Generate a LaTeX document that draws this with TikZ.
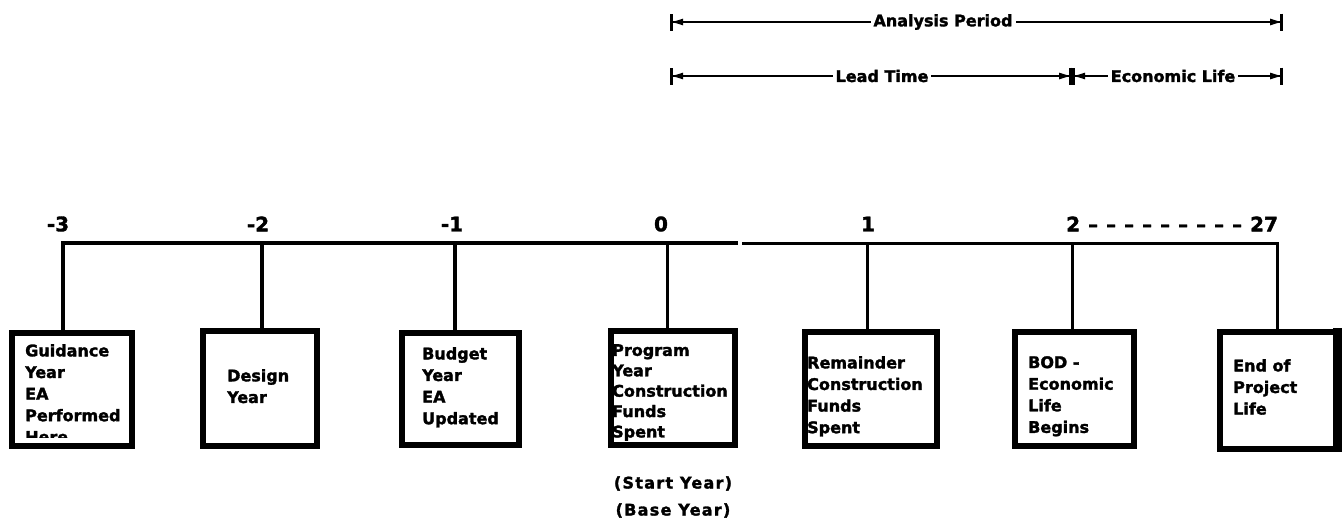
\documentclass[tikz,border=0pt]{standalone}
\usepackage{fontspec}
\setmainfont{DejaVu Sans}[FakeBold=1.8]
\usetikzlibrary{arrows.meta}
\begin{document}
\begin{tikzpicture}[x=1pt,y=-1pt,line join=miter,
  font=\fontsize{16}{21.6}\selectfont\bfseries,
  box/.style={draw,line width=6pt,inner sep=0pt},
  txt/.style={anchor=north west,inner sep=0pt,align=left},
  num/.style={inner sep=0pt,font=\fontsize{20}{24}\selectfont\bfseries},
  tline/.style={line width=4pt},
  tlinethin/.style={line width=3pt},
  bars/.style={line width=1.5pt,{Bar[width=17pt,line width=3pt]}-{Bar[width=17pt,line width=3pt]}},
  tips/.style={line width=1.5pt,{Latex[length=13pt,width=7pt]}-{Latex[length=13pt,width=7pt]}},
  lab/.style={fill=white,inner xsep=3pt,inner ysep=2pt}]
\useasboundingbox (0,0) rectangle (1342,522);

% ---------- top dimension lines ----------
\coordinate (ap1) at (670,22);
\coordinate (ap2) at (1283,22);
\draw[bars] (ap1) -- (ap2);
\draw[tips] (ap1) -- (ap2);
\node[lab] (ap) at (943,22) {Analysis Period};

\coordinate (lt1) at (670,76);
\coordinate (lt2) at (1072,76);
\coordinate (lt3) at (1283,76);
\draw[bars] (lt1) -- (lt2);
\draw[tips] (lt1) -- (lt2);
\draw[bars] (lt2) -- (lt3);
\draw[tips] (lt2) -- (lt3);
\node[lab] (lt) at (882,76) {Lead Time};
\node[lab] (el) at (1173,76) {Economic Life};

% ---------- year numbers ----------
\node[num] (n1) at (58,224) {-3};
\node[num] (n2) at (258,224) {-2};
\node[num] (n3) at (452,224) {-1};
\node[num] (n4) at (661,224) {0};
\node[num] (n5) at (868,224) {1};
\def\dd{\hspace{8pt}–}
\node[num,anchor=west] (n6) at (1066,224) {2\dd\dd\dd\dd\dd\dd\dd\dd\dd\hspace{8pt}27};

% ---------- boxes ----------
\begin{scope}
\clip (9,330) rectangle (135,437);
\node[txt] (g1) at (25,344) {Guidance\\Year\\EA\\Performed\\Here};
\end{scope}
\node[box,minimum width=120pt,minimum height=113pt] (b1) at (72,389.5) {};
\node[box,minimum width=114pt,minimum height=115pt] (b2) at (260,388.5) {};
\node[txt] (g2) at (227,369) {Design\\Year};
\node[box,minimum width=117pt,minimum height=112pt] (b3) at (460.5,389) {};
\node[txt] (g3) at (422,347) {Budget\\Year\\EA\\Updated};
\node[box,minimum width=124pt,minimum height=114pt] (b4) at (673,388) {};
\node[txt,font=\fontsize{16}{20.4}\selectfont\bfseries] (g4) at (612,344) {Program\\Year\\Construction\\Funds\\Spent};
\node[box,minimum width=132pt,minimum height=114pt] (b5) at (871,389) {};
\node[txt] (g5) at (807,356) {Remainder\\Construction\\Funds\\Spent};
\node[box,minimum width=119pt,minimum height=114pt] (b6) at (1074.5,389) {};
\node[txt] (g6) at (1028,356) {BOD -\\Economic\\Life\\Begins};
\node[box,minimum width=119pt,minimum height=117pt] (b7) at (1279.5,390.5) {};
\node[txt] (g7) at (1233,359) {End of\\Project\\Life};
\fill (1333,328) rectangle (1342,452);

% ---------- timeline ----------
\coordinate (t1) at (63,243);
\coordinate (t2) at (262,243);
\coordinate (t3) at (455,243);
\coordinate (t4) at (667,243);
\coordinate (t5) at (867,243);
\coordinate (t6) at (1072,243);
\coordinate (t7) at (1277,243);
\coordinate (tm) at (738,243);
\coordinate (tn) at (742,243);
\draw[tline] (t1 |- b1.north) -- (t1) -- (tm);
\draw[tlinethin] (tn) -- (t7) -- (t7 |- b7.north);
\draw[tline] (t2) -- (t2 |- b2.north);
\draw[tline] (t3) -- (t3 |- b3.north);
\draw[tlinethin] (t4) -- (t4 |- b4.north);
\draw[tlinethin] (t5) -- (t5 |- b5.north);
\draw[tlinethin] (t6) -- (t6 |- b6.north);

% ---------- note ----------
\node[align=center,inner sep=0pt,font=\fontsize{16}{27}\selectfont\bfseries\addfontfeature{LetterSpace=8}] (sy) at (673,497) {(Start Year)\\(Base Year)};
\end{tikzpicture}
\end{document}
